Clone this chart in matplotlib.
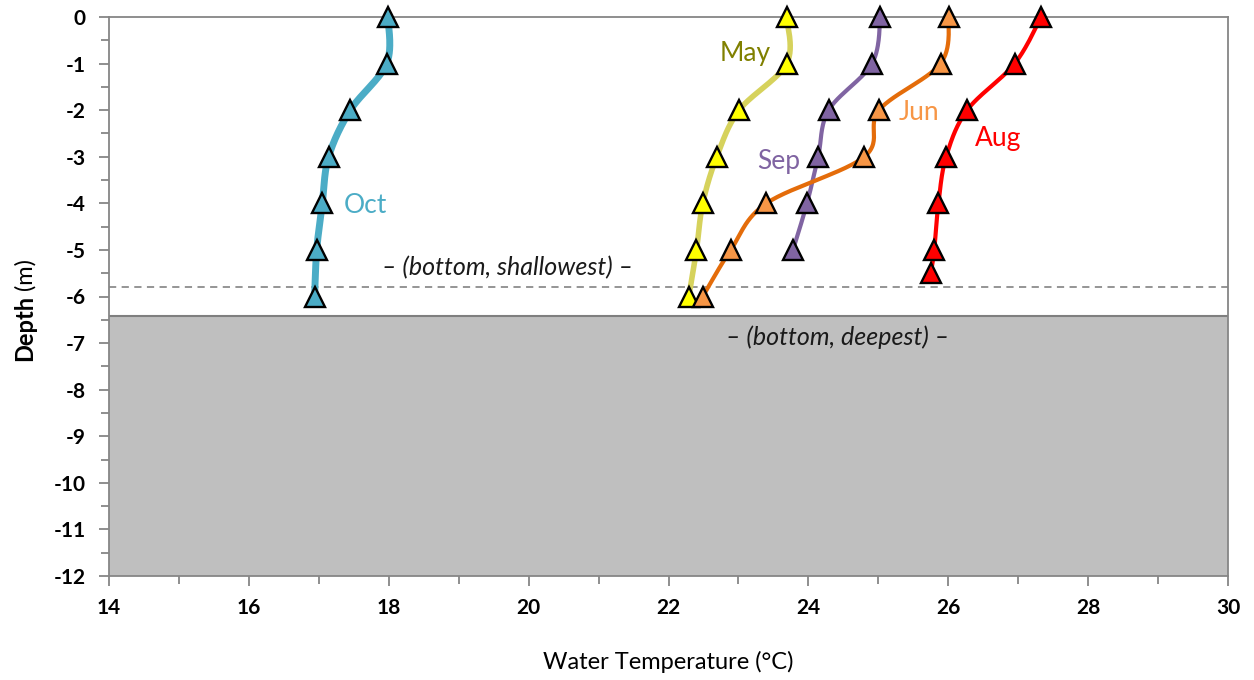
import numpy as np
import matplotlib
matplotlib.use('Agg')
import matplotlib.pyplot as plt
from matplotlib.ticker import MultipleLocator

plt.rcParams['font.family'] = ['Lato', 'DejaVu Sans']

# temperature profiles (deg C) by depth (m)
depth_full = [0, -1, -2, -3, -4, -5, -6]
depth_sep = [0, -1, -2, -3, -4, -5]
depth_aug = [0, -1, -2, -3, -4, -5, -5.5]

oct_t = [17.99, 17.97, 17.45, 17.14, 17.05, 16.97, 16.94]
may_t = [23.69, 23.69, 23.01, 22.69, 22.49, 22.40, 22.29]
jun_t = [26.01, 25.89, 25.01, 24.80, 23.40, 22.89, 22.49]
sep_t = [25.03, 24.91, 24.29, 24.14, 23.98, 23.78]
aug_t = [27.33, 26.95, 26.27, 25.97, 25.86, 25.80, 25.75]

bottom_shallow = -5.8
bottom_deep = -6.42

XMIN, XMAX, YMIN, YMAX = 14, 30, -12, 0

fig = plt.figure(figsize=(12.54, 6.8), dpi=100)
ax = fig.add_axes([109/1254, 1-576/680, 1119/1254, 559/680])

# pixel scale so the smoothing behaves like it would on screen
sx = 1119 / (XMAX - XMIN)
sy = 559 / (YMAX - YMIN)


def smooth(xs, ys, n=30):
    p = np.column_stack([np.array(xs) * sx, np.array(ys) * sy])
    p = np.vstack([p[0], p, p[-1]])
    out = []
    for i in range(1, len(p) - 2):
        p0, p1, p2, p3 = p[i-1], p[i], p[i+1], p[i+2]
        c1 = p1 + (p2 - p0) / 6
        c2 = p2 - (p3 - p1) / 6
        t = np.linspace(0, 1, n)[:, None]
        seg = ((1-t)**3 * p1 + 3*(1-t)**2*t * c1 + 3*(1-t)*t**2 * c2 + t**3 * p2)
        out.append(seg)
    out = np.vstack(out)
    return out[:, 0] / sx, out[:, 1] / sy


series = [
    # temps, depths, line colour, marker colour, line width
    (may_t, depth_full, '#D6D25C', '#FFFF00', 4),
    (sep_t, depth_sep, '#8064A2', '#8064A2', 3),
    (jun_t, depth_full, '#E46C0A', '#F79646', 3),
    (aug_t, depth_aug, '#FF0000', '#FF0000', 3),
    (oct_t, depth_full, '#4BACC6', '#4BACC6', 5),
]

for k, (t, d, lc, mc, lw) in enumerate(series):
    xs, ys = smooth(t, d)
    ax.plot(xs, ys, color=lc, lw=lw, zorder=3 + k, solid_capstyle='round')
    ax.plot(t, d, ls='none', marker='^', ms=14, mfc=mc, mec='black',
            mew=1.7, zorder=3.5 + k, clip_on=False)

# lake bottom
ax.axhspan(YMIN, bottom_deep, color='#BFBFBF', zorder=1, lw=0)
ax.axhline(bottom_deep, color='#7F7F7F', lw=1.5, zorder=1.5)
ax.axhline(bottom_shallow, color='#8C8C8C', lw=1.3, ls=(0, (4, 3)), zorder=1.5)

ax.text(19.70, -5.39, '– (bottom, shallowest) –', style='italic', fontsize=18,
        ha='center', va='center', color='#1A1A1A')
ax.text(24.42, -6.87, '– (bottom, deepest) –', style='italic', fontsize=18,
        ha='center', va='center', color='#1A1A1A')

ax.text(17.67, -4.04, 'Oct', color='#4BACC6', fontsize=19, ha='center', va='center')
ax.text(23.09, -0.78, 'May', color='#808000', fontsize=19, ha='center', va='center')
ax.text(23.57, -3.11, 'Sep', color='#8064A2', fontsize=19, ha='center', va='center')
ax.text(25.58, -2.06, 'Jun', color='#F79646', fontsize=19, ha='center', va='center')
ax.text(26.71, -2.6, 'Aug', color='#FF0000', fontsize=19, ha='center', va='center')

ax.set_xlim(XMIN, XMAX)
ax.set_ylim(YMIN, YMAX)
ax.xaxis.set_major_locator(MultipleLocator(2))
ax.xaxis.set_minor_locator(MultipleLocator(1))
ax.yaxis.set_major_locator(MultipleLocator(1))
ax.yaxis.set_minor_locator(MultipleLocator(0.5))
ax.tick_params(which='both', direction='out', color='#868686', width=1.3)
ax.tick_params(which='major', length=7, labelsize=15)
ax.tick_params(which='minor', length=6)
ax.tick_params(axis='x', pad=9)
ax.tick_params(axis='y', pad=10)
ax.set_yticklabels([str(int(v)) for v in ax.get_yticks()])
for lab in ax.get_xticklabels() + ax.get_yticklabels():
    lab.set_fontweight('bold')
for s in ax.spines.values():
    s.set_color('#868686')
    s.set_linewidth(1.3)
    s.set_zorder(2)

fig.text(668/1254, 1-662/680, 'Water Temperature (°C)', fontsize=17,
         ha='center', va='center')
fig.text(25/1254, 1-328/680, 'Depth', fontsize=17, fontweight='bold',
         rotation=90, ha='center', va='center')
fig.text(25/1254, 1-274/680, '(m)', fontsize=17, rotation=90,
         ha='center', va='center')

fig.savefig('out.png', dpi=100)
